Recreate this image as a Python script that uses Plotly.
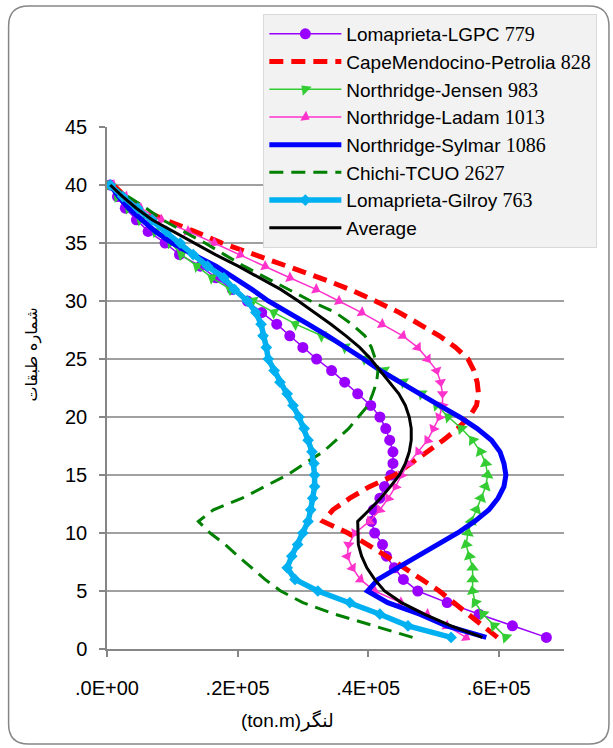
import math
import plotly.graph_objects as go

# Floors (storey number) and bending moment values (x 1e5 ton.m), floor 1 -> 40
floors = list(range(1, 41))
scale = 1e5

lgpc_779 = [6.73, 6.21, 5.70, 5.21, 4.76, 4.54, 4.40, 4.28, 4.22, 4.10,
            4.05, 4.08, 4.18, 4.25, 4.35, 4.38, 4.38, 4.33, 4.27, 4.18,
            4.04, 3.84, 3.64, 3.44, 3.21, 3.00, 2.80, 2.60, 2.37, 2.15,
            1.92, 1.67, 1.43, 1.11, 0.89, 0.63, 0.45, 0.28, 0.16, 0.05]

petrolia_828 = [5.98, 5.76, 5.55, 5.32, 5.09, 4.82, 4.56, 4.28, 3.99, 3.69,
                3.31, 3.46, 3.72, 4.02, 4.41, 4.66, 4.89, 5.15, 5.37, 5.55,
                5.66, 5.69, 5.67, 5.62, 5.53, 5.34, 5.09, 4.79, 4.48, 4.11,
                3.72, 3.26, 2.75, 2.24, 1.76, 1.34, 0.88, 0.50, 0.28, 0.10]

jensen_983 = [6.11, 5.93, 5.76, 5.64, 5.60, 5.60, 5.60, 5.55, 5.50, 5.53,
              5.58, 5.66, 5.73, 5.80, 5.83, 5.80, 5.72, 5.60, 5.43, 5.23,
              5.05, 4.82, 4.54, 4.25, 3.95, 3.65, 3.29, 2.89, 2.56, 2.24,
              1.89, 1.61, 1.38, 1.14, 0.98, 0.74, 0.51, 0.33, 0.16, 0.05]

ladam_1013 = [5.50, 5.20, 4.90, 4.50, 4.10, 3.88, 3.76, 3.68, 3.70, 3.80,
              4.02, 4.18, 4.31, 4.42, 4.51, 4.62, 4.77, 4.91, 5.00, 5.09,
              5.14, 5.14, 5.11, 5.05, 4.91, 4.76, 4.53, 4.21, 3.90, 3.55,
              3.20, 2.80, 2.42, 2.04, 1.64, 1.24, 0.83, 0.51, 0.28, 0.08]

sylmar_1086 = [5.81, 5.20, 4.79, 4.30, 3.99, 4.15, 4.45, 4.76, 5.09, 5.37,
               5.63, 5.85, 5.99, 6.08, 6.11, 6.08, 6.02, 5.89, 5.67, 5.40,
               5.09, 4.79, 4.48, 4.19, 3.93, 3.67, 3.38, 3.08, 2.77, 2.47,
               2.22, 1.95, 1.67, 1.32, 1.00, 0.74, 0.53, 0.33, 0.18, 0.05]

tcuo_2627 = [4.68, 4.10, 3.49, 3.00, 2.66, 2.42, 2.21, 2.01, 1.81, 1.58,
             1.40, 1.63, 2.07, 2.42, 2.76, 3.03, 3.31, 3.51, 3.70, 3.85,
             4.00, 4.07, 4.13, 4.15, 4.11, 4.05, 3.95, 3.75, 3.50, 3.12,
             2.78, 2.42, 2.10, 1.80, 1.50, 1.17, 0.85, 0.60, 0.33, 0.05]

gilroy_763 = [5.27, 4.61, 4.18, 3.72, 3.23, 2.88, 2.76, 2.83, 2.92, 3.00,
              3.08, 3.12, 3.15, 3.18, 3.18, 3.17, 3.14, 3.08, 3.02, 2.94,
              2.85, 2.76, 2.65, 2.56, 2.47, 2.44, 2.39, 2.36, 2.28, 2.15,
              1.95, 1.79, 1.54, 1.32, 1.12, 0.91, 0.69, 0.47, 0.24, 0.05]

average = [5.75, 5.27, 4.86, 4.51, 4.25, 4.10, 3.98, 3.90, 3.85, 3.85,
           3.84, 4.02, 4.19, 4.34, 4.48, 4.57, 4.63, 4.66, 4.66, 4.63,
           4.57, 4.47, 4.33, 4.18, 4.04, 3.87, 3.66, 3.43, 3.18, 2.93,
           2.66, 2.34, 2.01, 1.66, 1.34, 1.00, 0.69, 0.45, 0.24, 0.05]

x_tickvals = [0, 2e5, 4e5, 6e5]
x_ticktext = [".0E+00", ".2E+05", ".4E+05", ".6E+05"]
y_tickvals = [0, 5, 10, 15, 20, 25, 30, 35, 40, 45]

SERIF = "Liberation Serif"
FONT = "Liberation Sans, DejaVu Sans, sans-serif"

# plot-area geometry (pixels)
L, R, T, B = 106.5, 564, 127, 649
W, H = 613, 748
pw, ph = R - L, B - T
XMAX, YMAX = 7e5, 45


def nm(word, num=None):
    if num is None:
        return word
    return f"{word} <span style='font-family:{SERIF};font-size:20px'>{num}</span>"


def along_angles(vals, flip=False):
    """Marker rotation (deg, clockwise from up) following the line direction
    in screen space, towards higher floors (or lower if flip)."""
    xs = [v * scale * pw / XMAX for v in vals]
    ys = [-f * ph / YMAX for f in floors]
    out = []
    n = len(xs)
    for i in range(n):
        j0, j1 = (i - 1, i) if i > 0 else (0, 1)
        dx, dy = xs[j1] - xs[j0], ys[j1] - ys[j0]
        a = math.degrees(math.atan2(dx, -dy))
        out.append(a + 180 if flip else a)
    return out


fig = go.Figure()


def add(name, vals, color, width, dash="solid", symbol=None, msize=0,
        angle=0):
    mode = "lines+markers" if symbol else "lines"
    marker = dict(symbol=symbol, size=msize, color=color,
                  angle=angle, line=dict(width=0)) if symbol else None
    fig.add_trace(go.Scatter(
        x=[v * scale for v in vals], y=floors, name=name, mode=mode,
        line=dict(color=color, width=width, dash=dash),
        marker=marker, legendgroup=name,
    ))


add(nm("Lomaprieta-LGPC", 779), lgpc_779, "#9900FF", 1.5, symbol="circle", msize=11)
add(nm("CapeMendocino-Petrolia", 828), petrolia_828, "#FF0000", 5, dash="14px,8px")
add(nm("Northridge-Jensen", 983), jensen_983, "#33CC33", 1.5, symbol="triangle-up",
    msize=11, angle=along_angles(jensen_983))
add(nm("Northridge-Ladam", 1013), ladam_1013, "#FF33CC", 1.5, symbol="triangle-up",
    msize=10, angle=along_angles(ladam_1013, flip=True))
add(nm("Northridge-Sylmar", 1086), sylmar_1086, "#0000FF", 5)
add(nm("Chichi-TCUO", 2627), tcuo_2627, "#008000", 3, dash="14px,8px")
add(nm("Lomaprieta-Gilroy", 763), gilroy_763, "#00B0F0", 5.5, symbol="diamond", msize=9)
add("Average", average, "#000000", 3)


def px2x(px):
    return (px - L) / pw


def py2y(py):
    return (B - py) / ph


x0, x1 = px2x(8), px2x(609)
yt, yb = py2y(6), py2y(744)
rx, ry = 20 / pw, 20 / ph
border = (f"M{x0+rx},{yt} L{x1-rx},{yt} Q{x1},{yt} {x1},{yt-ry} "
          f"L{x1},{yb+ry} Q{x1},{yb} {x1-rx},{yb} L{x0+rx},{yb} "
          f"Q{x0},{yb} {x0},{yb+ry} L{x0},{yt-ry} Q{x0},{yt} {x0+rx},{yt} Z")

fig.update_layout(
    width=W, height=H,
    margin=dict(l=L, r=W - R, t=T, b=H - B),
    paper_bgcolor="white", plot_bgcolor="white",
    font=dict(family=FONT, color="black"),
    showlegend=True,
    legend=dict(x=px2x(263), y=py2y(14), xanchor="left", yanchor="top",
                bgcolor="#F2F2F2", bordercolor="#D9D9D9", borderwidth=1,
                font=dict(size=19, family=FONT, color="black"),
                itemwidth=72, tracegroupgap=0.3, traceorder="normal"),
    xaxis=dict(range=[0, XMAX], tickvals=x_tickvals, ticktext=x_ticktext,
               showgrid=False, zeroline=False, showline=True,
               linecolor="#868686", linewidth=1.5,
               ticks="outside", ticklen=6, tickcolor="#868686", tickwidth=1.5,
               tickfont=dict(size=20, family=FONT), ticklabelstandoff=14),
    yaxis=dict(range=[0, YMAX], tickvals=y_tickvals,
               showgrid=True, gridcolor="#A0A0A0", gridwidth=1.5,
               zeroline=False, showline=True,
               linecolor="#868686", linewidth=1.5,
               ticks="outside", ticklen=6, tickcolor="#868686", tickwidth=1.5,
               tickfont=dict(size=20, family=FONT), ticklabelstandoff=8),
    shapes=[dict(type="path", xref="paper", yref="paper", path=border,
                 line=dict(color="#868686", width=1.5), layer="below")],
    annotations=[
        dict(text="شماره طبقات", xref="paper", yref="paper",
             x=px2x(31), y=py2y(355), textangle=-90, showarrow=False,
             font=dict(size=16, family="DejaVu Sans"),
             xanchor="center", yanchor="middle"),
        dict(text="(ton.m)لنگر", xref="paper", yref="paper",
             x=px2x(287), y=py2y(720), showarrow=False,
             font=dict(size=19, family=FONT),
             xanchor="center", yanchor="middle"),
    ],
)

fig.write_html("out.html")
